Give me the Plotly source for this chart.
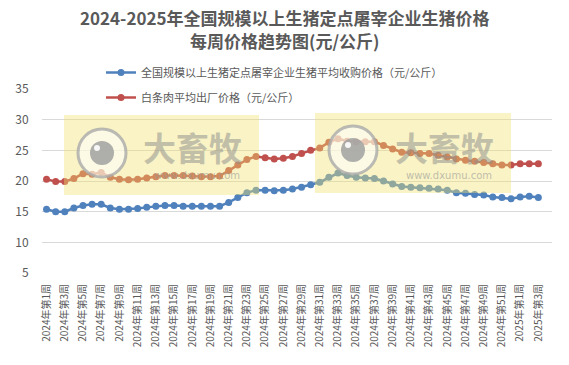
import plotly.graph_objects as go

weeks_2024 = [f"2024年第{i}周" for i in range(1, 53)]
weeks_2025 = [f"2025年第{i}周" for i in range(1, 4)]
categories = weeks_2024 + weeks_2025

live_pig_price = [
    15.4, 15.0, 15.0, 15.6, 16.0, 16.2, 16.2, 15.6, 15.4, 15.4,
    15.5, 15.7, 15.9, 16.0, 16.0, 15.9, 15.9, 15.9, 15.9, 15.9,
    16.5, 17.3, 18.1, 18.5, 18.5, 18.4, 18.5, 18.7, 19.0, 19.4,
    19.8, 20.6, 21.3, 20.9, 20.6, 20.5, 20.4, 20.0, 19.5, 19.1,
    19.0, 18.9, 18.8, 18.7, 18.5, 18.1, 18.0, 17.8, 17.7, 17.4,
    17.3, 17.1, 17.4, 17.5, 17.3,
]
pork_price = [
    20.3, 19.9, 19.9, 20.4, 21.2, 21.1, 21.4, 20.6, 20.3, 20.2,
    20.3, 20.5, 20.7, 20.9, 20.9, 20.9, 20.8, 20.7, 20.7, 20.8,
    21.7, 22.6, 23.5, 24.0, 23.8, 23.6, 23.7, 24.0, 24.5, 25.0,
    25.4, 26.3, 26.9, 26.5, 26.4, 26.4, 26.4, 25.8, 25.2, 24.7,
    24.6, 24.5, 24.5, 24.2, 23.9, 23.6, 23.4, 23.2, 23.0, 22.8,
    22.6, 22.6, 22.8, 22.8, 22.8,
]
series_names = [
    "全国规模以上生猪定点屠宰企业生猪平均收购价格（元/公斤）",
    "白条肉平均出厂价格（元/公斤）",
]
tick_labels = categories[::2]
title_line1 = "2024-2025年全国规模以上生猪定点屠宰企业生猪价格"
title_line2 = "每周价格趋势图(元/公斤)"

FONT = "Noto Sans CJK SC"
W, H = 569, 365
ML, MR, MT, MB = 42, 17, 89, 92
PW, PH = W - ML - MR, H - MT - MB


def px_x(x):
    return (x - ML) / PW


def px_y(y):
    return (H - MB - y) / PH


fig = go.Figure()
colors = ["#4F81BD", "#C0504D"]
for i, (vals, name) in enumerate(zip([live_pig_price, pork_price], series_names)):
    fig.add_trace(go.Scatter(
        x=categories, y=vals, name=name, mode="lines+markers",
        line=dict(color=colors[i], width=2.5),
        marker=dict(color=colors[i], size=7),
        legendgroup=f"g{i}",
    ))

shapes = []
annotations = []
# title lines
for txt, yc in [(title_line1, 17), (title_line2, 41)]:
    annotations.append(dict(text=txt, xref="paper", yref="paper",
                            x=px_x(W / 2), y=px_y(yc), xanchor="center", yanchor="middle",
                            showarrow=False,
                            font=dict(family=FONT, size=17, color="#595959", weight="bold")))
# watermark boxes
for (x0, x1, y0, y1, cx, cy, tx) in [(64, 259, 115, 195, 102, 153, 192),
                                     (315, 511, 113, 193, 353, 150, 444)]:
    shapes.append(dict(type="rect", xref="paper", yref="paper", layer="above",
                       x0=px_x(x0), x1=px_x(x1), y0=px_y(y1), y1=px_y(y0),
                       fillcolor="rgba(240,225,110,0.4)", line=dict(width=0)))
    shapes.append(dict(type="circle", xref="paper", yref="paper", layer="above",
                       x0=px_x(cx - 24), x1=px_x(cx + 24), y0=px_y(cy + 24), y1=px_y(cy - 24),
                       fillcolor="rgba(255,255,255,0.55)", line=dict(color="rgba(170,170,170,0.8)", width=3)))
    shapes.append(dict(type="circle", xref="paper", yref="paper", layer="above",
                       x0=px_x(cx - 12), x1=px_x(cx + 12), y0=px_y(cy + 12), y1=px_y(cy - 12),
                       fillcolor="rgba(160,160,160,0.85)", line=dict(width=0)))
    shapes.append(dict(type="circle", xref="paper", yref="paper", layer="above",
                       x0=px_x(cx - 8), x1=px_x(cx - 2), y0=px_y(cy - 2), y1=px_y(cy - 8),
                       fillcolor="rgba(255,255,255,0.9)", line=dict(width=0)))
    annotations.append(dict(text="大畜牧", xref="paper", yref="paper",
                            x=px_x(tx), y=px_y(147), xanchor="center", yanchor="middle",
                            showarrow=False,
                            font=dict(family=FONT, size=33, color="rgba(140,140,140,0.5)",
                                      weight="bold")))
    annotations.append(dict(text="www.dxumu.com", xref="paper", yref="paper",
                            x=px_x(tx + 5), y=px_y(175), xanchor="center", yanchor="middle",
                            showarrow=False,
                            font=dict(family="DejaVu Sans", size=10, color="rgba(150,150,150,0.6)")))

fig.update_layout(
    width=W, height=H,
    margin=dict(l=ML, r=MR, t=MT, b=MB, autoexpand=False),
    paper_bgcolor="white", plot_bgcolor="white",
    font=dict(family=FONT, color="#595959"),
    showlegend=True,
    legend=dict(xref="container", yref="container",
                x=101 / W, y=1 - 58 / H, xanchor="left", yanchor="top",
                orientation="v", bgcolor="white", traceorder="grouped",
                tracegroupgap=6, font=dict(family=FONT, size=11, color="#595959")),
    xaxis=dict(type="category", range=[-0.5, 55.5], tickmode="array",
               tickvals=tick_labels, ticktext=tick_labels, tickangle=-90,
               showgrid=False, showline=False, zeroline=False, automargin=False,
               ticks="outside", ticklen=6, tickcolor="rgba(0,0,0,0)",
               tickfont=dict(family=FONT, size=10, color="#595959")),
    yaxis=dict(range=[5, 35], dtick=5, tick0=5, showgrid=True, automargin=False,
               gridcolor="#D9D9D9", gridwidth=1, zeroline=False, showline=False,
               ticks="outside", ticklen=10, tickcolor="rgba(0,0,0,0)",
               tickfont=dict(family=FONT, size=12, color="#595959")),
    shapes=shapes, annotations=annotations,
)

fig.write_html("out.html", config={"displayModeBar": False},
               post_script="document.body.style.margin='0px';")
